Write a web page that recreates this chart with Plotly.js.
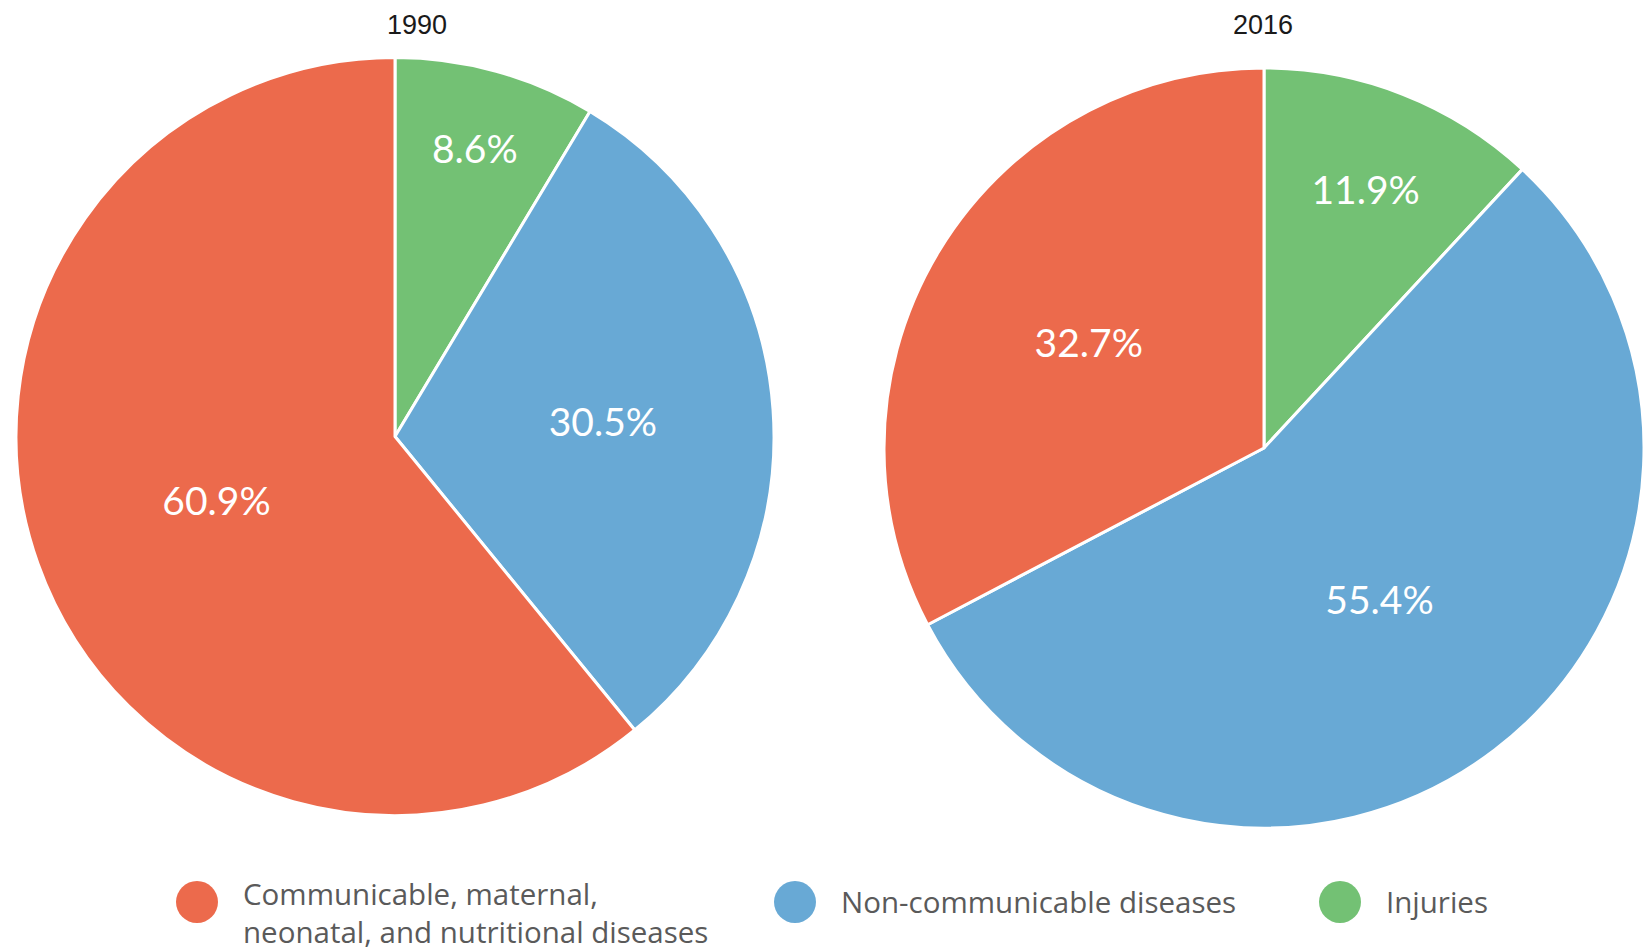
<!DOCTYPE html>
<html>
<head>
<meta charset="utf-8">
<script src="https://cdn.plot.ly/plotly-3.0.1.min.js"></script>
<style>
  html, body { margin: 0; padding: 0; background: #ffffff; }
  #chart { width: 1644px; height: 951px; }
</style>
</head>
<body>
<div id="chart"></div>
<script>
// Share of deaths by cause group
const causes = [
  'Communicable, maternal,<br>neonatal, and nutritional diseases',
  'Non-communicable diseases',
  'Injuries'
];
const years = ['1990', '2016'];
const share1990 = [60.9, 30.5, 8.6];
const share2016 = [32.7, 55.4, 11.9];
const causeColors = ['#EC6A4C', '#68A9D5', '#73C174'];

const W = 1644, H = 951;
const fx = p => p / W;          // pixel -> paper x
const fy = p => 1 - p / H;      // pixel -> paper y (from top)

// Slices run clockwise from 12 o'clock: injuries, non-communicable, communicable
const sliceOrder = [2, 1, 0];

function pieTrace(values, x0, x1, yTop, yBottom) {
  return {
    type: 'pie',
    labels: sliceOrder.map(i => causes[i]),
    values: sliceOrder.map(i => values[i]),
    sort: false,
    direction: 'clockwise',
    rotation: 0,
    marker: { colors: sliceOrder.map(i => causeColors[i]), line: { color: '#ffffff', width: 3 } },
    textposition: 'inside',
    insidetextorientation: 'horizontal',
    texttemplate: '%{value:.1f}%',
    textfont: { family: 'Lato, sans-serif', size: 39, color: '#ffffff' },
    hoverinfo: 'skip',
    showlegend: false,
    domain: { x: [fx(x0), fx(x1)], y: [fy(yBottom), fy(yTop)] }
  };
}

const data = [
  pieTrace(share1990, 16, 774, 57, 816),
  pieTrace(share2016, 884, 1644, 68, 828)
];

// Year headings above each pie
const annotations = [
  { text: years[0], x: fx(417), y: fy(25) },
  { text: years[1], x: fx(1263), y: fy(25) }
].map(a => Object.assign({
  xref: 'paper', yref: 'paper', xanchor: 'center', yanchor: 'middle',
  showarrow: false,
  font: { family: 'Liberation Sans, Arial, sans-serif', size: 27, color: '#1a1a1a' }
}, a));

// Legend: coloured dot + cause name
const legendDots = [197, 795, 1340];
const legendText = [241, 839, 1384];
const legendTextY = [912, 901, 901];
const shapes = [];
causes.forEach((name, i) => {
  const r = 21, cy = 902;
  shapes.push({
    type: 'circle', xref: 'paper', yref: 'paper',
    x0: fx(legendDots[i] - r), x1: fx(legendDots[i] + r),
    y0: fy(cy + r), y1: fy(cy - r),
    fillcolor: causeColors[i], line: { width: 0 }
  });
  annotations.push({
    text: name, xref: 'paper', yref: 'paper',
    x: fx(legendText[i]), y: fy(legendTextY[i]),
    xanchor: 'left', yanchor: 'middle', align: 'left',
    showarrow: false,
    font: { family: 'Open Sans, sans-serif', size: 29.5, color: '#5a5a5a' }
  });
});

const layout = {
  width: W, height: H,
  margin: { l: 0, r: 0, t: 0, b: 0 },
  paper_bgcolor: '#ffffff',
  plot_bgcolor: '#ffffff',
  showlegend: false,
  annotations: annotations,
  shapes: shapes
};

Plotly.newPlot('chart', data, layout, { displayModeBar: false, staticPlot: true });
</script>
</body>
</html>
